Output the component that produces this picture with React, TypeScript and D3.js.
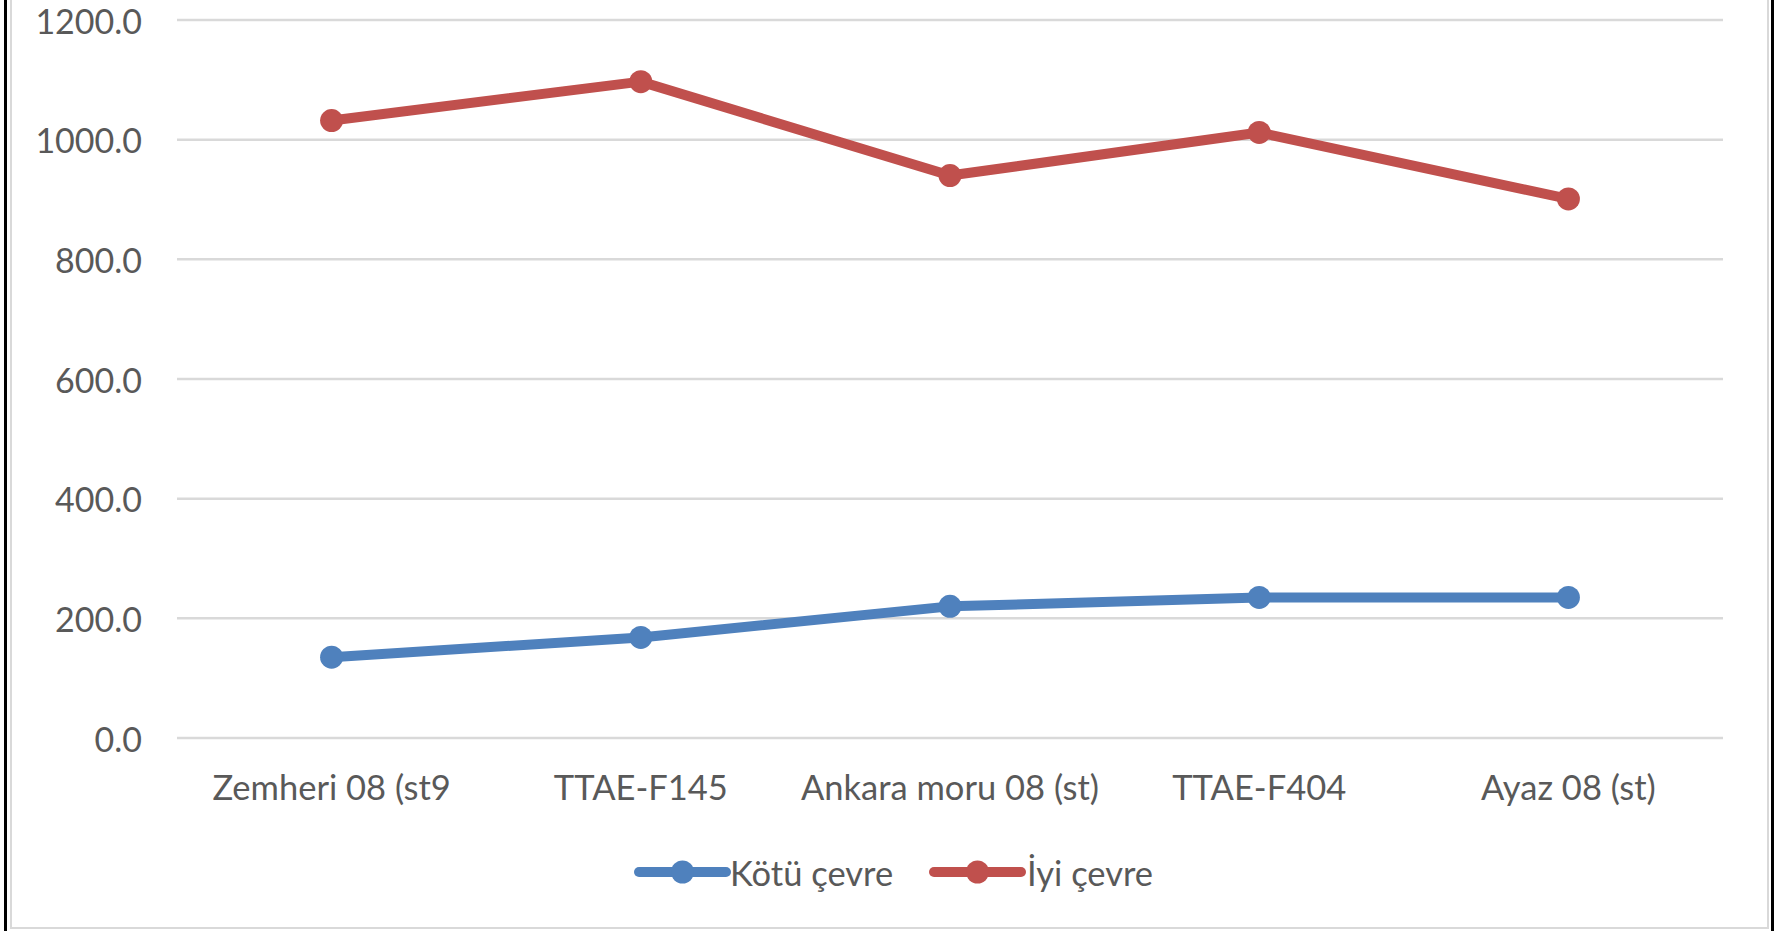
import React from "react";
import * as d3 from "d3";

const categories = ["Zemheri 08 (st9", "TTAE-F145", "Ankara moru 08 (st)", "TTAE-F404", "Ayaz 08 (st)"];
const kotuCevre = [135, 168, 220, 235, 235];
const iyiCevre = [1032, 1097, 940, 1012, 901];
const yTicks = [0, 200, 400, 600, 800, 1000, 1200];
const seriesNames = ["Kötü çevre", "İyi çevre"];
const seriesColors = ["#4F81BD", "#C0504D"];

const W = 1779;
const H = 931;
const FONT = "Lato, 'Open Sans', sans-serif";
const TEXT = "#595959";

export default function App() {
  const x = d3.scaleBand<string>().domain(categories).range([177, 1723]);
  const y = d3.scaleLinear().domain([0, 1200]).range([738, 20]);
  const cx = (c: string) => (x(c) ?? 0) + x.bandwidth() / 2;
  const line = d3
    .line<number>()
    .x((_, i) => cx(categories[i]))
    .y((d) => y(d));
  const series = [kotuCevre, iyiCevre];

  const legendItems = [
    { x1: 639, x2: 726, tx: 730 },
    { x1: 934, x2: 1021, tx: 1027 },
  ];
  const legendY = 872;

  return (
    <svg
      width={W}
      height={H}
      style={{ position: "absolute", left: 0, top: 0, background: "#fff" }}
      fontFamily={FONT}
    >
      <rect x={0} y={0} width={W} height={H} fill="#fff" />
      {/* frames */}
      <line x1={5.5} x2={5.5} y1={0} y2={H} stroke="#000" strokeWidth={3} />
      <line x1={1772.5} x2={1772.5} y1={0} y2={H} stroke="#000" strokeWidth={3} />
      <line x1={11} x2={11} y1={0} y2={928} stroke="#D9D9D9" strokeWidth={2} />
      <line x1={1768} x2={1768} y1={0} y2={928} stroke="#D9D9D9" strokeWidth={2} />
      <line x1={10} x2={1769} y1={928} y2={928} stroke="#D9D9D9" strokeWidth={2} />

      {/* gridlines */}
      {yTicks.map((t) => (
        <g key={t}>
          <line x1={177} x2={1723} y1={y(t)} y2={y(t)} stroke="#D9D9D9" strokeWidth={2.5} />
          <text
            x={142}
            y={y(t)}
            textAnchor="end"
            dominantBaseline="central"
            fontSize={34}
            fill={TEXT}
          >
            {t.toFixed(1)}
          </text>
        </g>
      ))}

      {/* category labels */}
      {categories.map((c) => (
        <text key={c} x={cx(c)} y={786} textAnchor="middle" dominantBaseline="central" fontSize={34.5} fill={TEXT}>
          {c}
        </text>
      ))}

      {/* series */}
      {series.map((s, si) => (
        <g key={si}>
          <path
            d={line(s) ?? ""}
            fill="none"
            stroke={seriesColors[si]}
            strokeWidth={10}
            strokeLinejoin="round"
            strokeLinecap="round"
          />
          {s.map((v, i) => (
            <circle key={i} cx={cx(categories[i])} cy={y(v)} r={11.5} fill={seriesColors[si]} />
          ))}
        </g>
      ))}

      {/* legend */}
      {legendItems.map((l, i) => (
        <g key={i}>
          <line x1={l.x1} x2={l.x2} y1={legendY} y2={legendY} stroke={seriesColors[i]} strokeWidth={10} strokeLinecap="round" />
          <circle cx={(l.x1 + l.x2) / 2} cy={legendY} r={11.5} fill={seriesColors[i]} />
          <text x={l.tx} y={legendY} dominantBaseline="central" fontSize={34.5} fill={TEXT}>
            {seriesNames[i]}
          </text>
        </g>
      ))}
    </svg>
  );
}
